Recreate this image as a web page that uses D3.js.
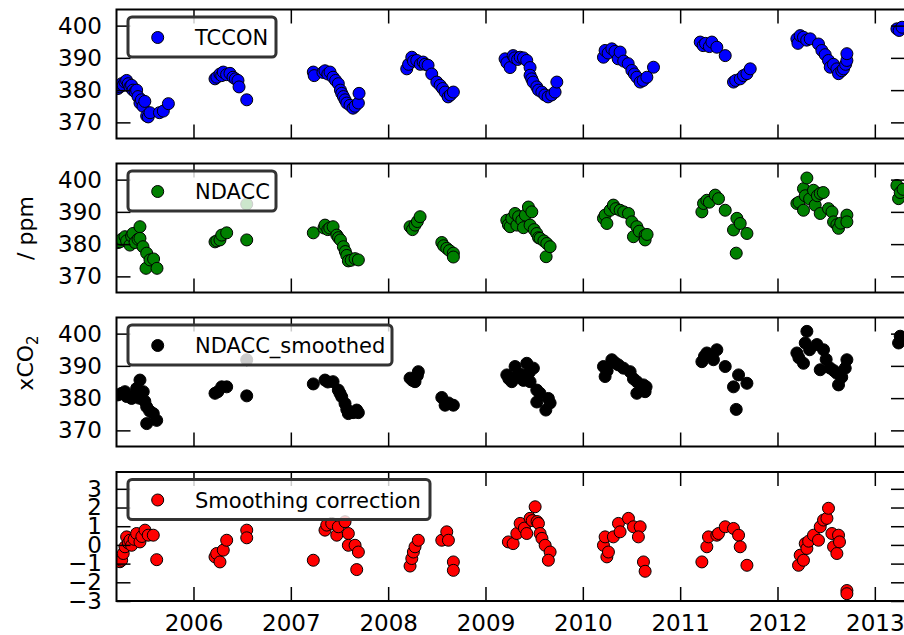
<!DOCTYPE html>
<html>
<head>
<meta charset="utf-8">
<script src="https://cdn.jsdelivr.net/npm/d3@7"></script>
<style>
  body { margin: 0; background: #fff; }
  svg { font-family: "DejaVu Sans", sans-serif; }
</style>
</head>
<body>
<div id="chart"></div>
<script>
// Tick values
const yearTicks = [2006, 2007, 2008, 2009, 2010, 2011, 2012, 2013];
const co2Ticks = [370, 380, 390, 400];
const corrTicks = [-3, -2, -1, 0, 1, 2, 3];

// Series: [decimal year, value]
const tcconData = [
  [2005.224,380.5],[2005.245,381],[2005.262,382],[2005.278,381.5],[2005.296,382.5],[2005.313,383],[2005.330,382],[2005.347,381],
  [2005.364,381.5],[2005.378,380],[2005.400,379.5],[2005.416,380],[2005.430,378],[2005.450,376],[2005.465,377],[2005.481,375],
  [2005.500,376.5],[2005.519,372],[2005.535,371.7],[2005.553,373],[2005.650,373],[2005.690,373.5],[2005.742,375.8],
  [2006.221,383.5],[2006.240,384],[2006.272,385],[2006.290,384.5],[2006.306,385.6],[2006.340,384.8],[2006.375,385.2],[2006.406,384],
  [2006.430,383.5],[2006.457,383],[2006.468,381],[2006.547,377],
  [2007.231,385.6],[2007.240,384.5],[2007.330,385.5],[2007.351,386],[2007.380,385],[2007.403,385.6],[2007.434,384],[2007.460,383],
  [2007.488,382],[2007.510,380],[2007.523,379],[2007.540,378],[2007.557,377],[2007.575,376],[2007.608,375.3],[2007.639,374.4],
  [2007.660,375],[2007.694,376],[2007.701,379],
  [2008.191,386.6],[2008.210,388],[2008.243,390.2],[2008.260,389],[2008.294,389.2],[2008.330,388],[2008.359,388.7],[2008.380,388],
  [2008.410,387.7],[2008.448,385],[2008.500,382.5],[2008.534,381.5],[2008.560,380.5],[2008.585,379.4],[2008.616,377.9],[2008.640,378.5],[2008.670,379.4],
  [2009.201,389.7],[2009.220,388.5],[2009.253,387],[2009.284,390.7],[2009.300,390],[2009.330,389.5],[2009.356,390.2],[2009.390,390],
  [2009.424,389.2],[2009.458,387],[2009.458,384.6],[2009.475,383.5],[2009.489,382.5],[2009.527,381],[2009.545,380],[2009.579,379.4],
  [2009.610,378.5],[2009.643,377.9],[2009.680,378.5],[2009.715,379.4],[2009.733,382.5],
  [2010.212,390.2],[2010.229,392.3],[2010.260,391.5],[2010.298,392.8],[2010.330,392],[2010.363,389.7],[2010.383,391.8],[2010.420,389],
  [2010.466,388.2],[2010.504,386.1],[2010.530,385],[2010.555,384],[2010.589,382.5],[2010.620,383],[2010.658,384],[2010.726,387.1],
  [2011.206,394.9],[2011.236,393.8],[2011.260,394.5],[2011.300,393.5],[2011.326,394.9],[2011.377,393.3],[2011.463,390.7],[2011.548,382.5],
  [2011.570,383],[2011.617,383.5],[2011.650,384.5],[2011.686,385.1],[2011.720,386.6],
  [2012.199,395.9],[2012.210,394.5],[2012.233,396.9],[2012.267,396.4],[2012.300,395.5],[2012.336,395.9],[2012.421,394.3],[2012.456,392.3],
  [2012.490,391],[2012.524,389.2],[2012.542,387.1],[2012.575,388],[2012.610,386.6],[2012.627,385.1],[2012.660,386],[2012.678,386.6],
  [2012.700,388],[2012.713,389.2],[2012.713,391.3],
  [2013.227,399],[2013.250,398.5],[2013.280,399.5]
];

const ndaccData = [
  [2005.224,380.5],[2005.245,380.7],[2005.262,381.5],[2005.296,382.3],[2005.313,381],[2005.347,379.7],[2005.364,382.5],[2005.378,383.3],
  [2005.400,380.5],[2005.430,381.5],[2005.450,385.4],[2005.450,381.8],[2005.481,379.2],[2005.512,372.5],[2005.519,377.2],[2005.553,375.1],
  [2005.590,375.4],[2005.625,372.5],
  [2006.221,380.7],[2006.240,381],[2006.272,381.3],[2006.290,382.8],[2006.341,383.5],[2006.547,392.4],[2006.547,381.3],
  [2007.231,383.5],[2007.340,385],[2007.351,385.9],[2007.380,384.5],[2007.400,385],[2007.434,385.4],[2007.472,382.8],[2007.490,382],
  [2007.510,381.3],[2007.540,379.2],[2007.560,377.7],[2007.575,376.5],[2007.591,374.8],[2007.620,375],[2007.660,375.5],[2007.694,375.1],
  [2008.225,385.4],[2008.250,384.5],[2008.276,385.9],[2008.300,387],[2008.328,388.5],[2008.551,380.5],[2008.570,379.5],[2008.602,378.7],
  [2008.630,378],[2008.670,377.2],[2008.670,376],
  [2009.219,387.4],[2009.235,386],[2009.253,385.4],[2009.270,388],[2009.304,389.5],[2009.322,385.9],[2009.340,388.5],[2009.373,387.4],
  [2009.390,385.1],[2009.410,389],[2009.441,391.5],[2009.458,385.9],[2009.476,390],[2009.500,384.5],[2009.527,383.3],[2009.545,382],
  [2009.561,381.8],[2009.600,381],[2009.630,380.2],[2009.623,376.1],[2009.664,379.2],
  [2010.212,388],[2010.229,389],[2010.247,386.4],[2010.280,390.5],[2010.314,392.1],[2010.340,391],[2010.383,390.5],[2010.420,390],
  [2010.469,389.5],[2010.504,386.9],[2010.520,382.3],[2010.555,385.4],[2010.580,384],[2010.640,382.8],[2010.640,381.3],[2010.660,383],
  [2011.223,390],[2011.240,392.6],[2011.274,393.6],[2011.300,393],[2011.360,395.2],[2011.394,394.1],[2011.463,390.5],[2011.548,384.4],
  [2011.576,377.2],[2011.583,388],[2011.617,386.4],[2011.686,383.3],
  [2012.199,392.6],[2012.220,393],[2012.267,397.2],[2012.267,390.5],[2012.285,395],[2012.302,400.5],[2012.330,394],[2012.370,396.7],
  [2012.387,392.1],[2012.410,395],[2012.439,395.7],[2012.439,389.5],[2012.470,396],[2012.524,391],[2012.560,390],[2012.576,386.9],
  [2012.610,386],[2012.627,384.9],[2012.650,386.5],[2012.713,389],[2012.713,386.9],
  [2013.227,398.2],[2013.244,394.1],[2013.261,396],[2013.290,397]
];

const smoothedData = [
  [2005.224,381],[2005.262,381.5],[2005.296,382],[2005.313,380.5],[2005.364,379.9],[2005.400,381],[2005.416,383],[2005.450,385.6],
  [2005.440,380],[2005.484,382],[2005.500,379],[2005.519,377.3],[2005.519,372.1],[2005.550,376],[2005.587,375.2],[2005.622,373.1],
  [2006.221,381.5],[2006.250,382],[2006.290,383.5],[2006.341,383.5],[2006.547,391.9],[2006.547,380.7],
  [2007.231,384.4],[2007.351,385.6],[2007.380,385],[2007.434,385.1],[2007.488,382.5],[2007.505,381.5],[2007.523,380.4],[2007.557,378.3],
  [2007.575,376.5],[2007.591,375.2],[2007.640,375.5],[2007.677,376.3],[2007.694,375.5],
  [2008.225,386.2],[2008.250,385.5],[2008.276,385.1],[2008.300,387],[2008.310,388.2],[2008.551,380.2],[2008.585,377.8],[2008.620,378.5],[2008.670,377.8],
  [2009.219,387.2],[2009.240,386],[2009.270,385.1],[2009.304,389.8],[2009.330,387],[2009.356,387.5],[2009.390,385.5],[2009.424,390.8],
  [2009.450,388],[2009.458,385.1],[2009.492,389.3],[2009.527,382.5],[2009.527,378.8],[2009.560,381.5],[2009.620,376.3],[2009.646,379.9],[2009.664,378.5],
  [2010.212,389.8],[2010.229,386.7],[2010.250,388.5],[2010.298,391.9],[2010.330,391],[2010.366,390.3],[2010.417,389.3],[2010.486,388.2],
  [2010.520,386],[2010.555,385.1],[2010.555,381.5],[2010.623,384.1],[2010.640,382],[2010.650,383.5],
  [2011.223,391.3],[2011.250,393],[2011.274,394],[2011.342,391.9],[2011.377,395],[2011.463,389.8],[2011.548,383.5],[2011.576,376.5],
  [2011.600,387.2],[2011.686,384.6],
  [2012.199,394],[2012.220,392.5],[2012.267,390.8],[2012.285,397.1],[2012.302,400.7],[2012.330,395],[2012.405,396.6],[2012.439,388.8],
  [2012.473,395],[2012.500,392],[2012.542,389.3],[2012.580,388.5],[2012.610,387.7],[2012.627,384.1],[2012.660,386.5],[2012.696,389.3],[2012.713,391.9],
  [2013.244,397.1],[2013.261,399.2]
];

const correctionData = [
  [2005.245,-0.9],[2005.262,-0.82],[2005.278,-0.46],[2005.296,-0.1],[2005.313,0.43],[2005.330,0.1],[2005.347,0.25],[2005.364,-0.02],
  [2005.390,0.3],[2005.416,0.61],[2005.450,0.16],[2005.470,0.45],[2005.502,0.79],[2005.535,0.52],[2005.587,0.52],[2005.622,-0.79],
  [2006.221,-0.64],[2006.238,-0.46],[2006.272,-0.91],[2006.306,-0.28],[2006.341,0.25],[2006.547,0.79],[2006.547,0.38],
  [2007.231,-0.82],[2007.351,0.79],[2007.369,1.06],[2007.420,1.15],[2007.472,0.52],[2007.488,0.97],[2007.557,1.24],[2007.591,0.61],
  [2007.591,-0.02],[2007.660,-0.02],[2007.694,-0.38],[2007.677,-1.32],
  [2008.225,-1.13],[2008.243,-0.73],[2008.259,-0.38],[2008.276,-0.1],[2008.310,0.25],[2008.551,0.25],[2008.602,0.7],[2008.619,0.25],
  [2008.670,-0.91],[2008.670,-1.36],
  [2009.235,0.16],[2009.284,0.07],[2009.322,0.61],[2009.356,1.15],[2009.400,0.9],[2009.424,0.61],[2009.458,1.42],[2009.480,1.3],
  [2009.510,2.04],[2009.530,1.25],[2009.544,1.15],[2009.561,0.61],[2009.580,0.35],[2009.613,-0.02],[2009.664,-0.38],[2009.646,-0.82],
  [2010.212,-0.02],[2010.247,-0.64],[2010.263,-0.38],[2010.229,0.43],[2010.314,0.43],[2010.366,1.15],[2010.383,0.7],[2010.469,1.42],
  [2010.520,0.97],[2010.589,0.97],[2010.571,0.43],[2010.623,-0.91],[2010.640,-1.41],
  [2011.223,-0.91],[2011.274,-0.1],[2011.291,0.43],[2011.377,0.52],[2011.394,0.61],[2011.463,0.97],[2011.548,0.88],[2011.600,0.52],
  [2011.617,-0.1],[2011.686,-1.09],
  [2012.216,-1.09],[2012.233,-0.55],[2012.267,-0.82],[2012.285,0.07],[2012.302,-0.19],[2012.320,0.2],[2012.370,0.52],[2012.421,0.25],
  [2012.439,0.97],[2012.473,1.33],[2012.508,1.42],[2012.524,1.96],[2012.559,0.61],[2012.576,-0.1],[2012.627,0.52],[2012.637,0.16],
  [2012.610,-0.46],[2012.713,-2.44],[2012.713,-2.61]
];

// Layout
const width = 904, height = 635;
const left = 116.5, right = 905;
const panelH = 129;
const panelTops = [9.5, 163.5, 317.5, 472];

const svg = d3.select("#chart")
  .append("svg")
  .attr("width", width)
  .attr("height", height);

const x = d3.scaleLinear().domain([2005.209, 2013.31]).range([left, right]);

const panels = [
  { name: "TCCON", data: tcconData, fill: "#0000ff", domain: [365, 405], ticks: co2Ticks, legendW: 148 },
  { name: "NDACC", data: ndaccData, fill: "#008000", domain: [365, 405], ticks: co2Ticks, legendW: 148 },
  { name: "NDACC_smoothed", data: smoothedData, fill: "#000000", domain: [365, 405], ticks: co2Ticks, legendW: 264 },
  { name: "Smoothing correction", data: correctionData, fill: "#ff0000", domain: [-3, 3.9], ticks: corrTicks, legendW: 302 }
];

const fmt = d => d < 0 ? "\u2212" + Math.abs(d) : String(d);

panels.forEach((p, i) => {
  const top = panelTops[i];
  const y = d3.scaleLinear().domain(p.domain).range([top + panelH, top]);
  const g = svg.append("g");

  // clip to axes area
  const clipId = "clip" + i;
  svg.append("clipPath").attr("id", clipId)
    .append("rect").attr("x", left).attr("y", top).attr("width", right - left).attr("height", panelH);

  // points
  g.append("g").attr("clip-path", `url(#${clipId})`)
    .selectAll("circle")
    .data(p.data)
    .enter()
    .append("circle")
    .attr("cx", d => x(d[0]))
    .attr("cy", d => y(d[1]))
    .attr("r", 6)
    .attr("fill", p.fill)
    .attr("stroke", "#000")
    .attr("stroke-width", 1);

  // ticks (inward, all four sides)
  const bottomAxis = d3.axisBottom(x).tickValues(yearTicks).tickSize(-14).tickPadding(14)
    .tickFormat(i === panels.length - 1 ? d3.format("d") : "");
  const topAxis = d3.axisTop(x).tickValues(yearTicks).tickSize(-14).tickFormat("");
  const leftAxis = d3.axisLeft(y).tickValues(p.ticks).tickSize(-14).tickPadding(14.5).tickFormat(fmt);
  const rightAxis = d3.axisRight(y).tickValues(p.ticks).tickSize(-14).tickFormat("");

  const axes = [
    [bottomAxis, `translate(0,${top + panelH})`],
    [topAxis, `translate(0,${top})`],
    [leftAxis, `translate(${left},0)`],
    [rightAxis, `translate(${right},0)`]
  ];
  axes.forEach(([ax, tr]) => {
    const a = g.append("g").attr("transform", tr).call(ax);
    a.select(".domain").remove();
    a.selectAll(".tick line").attr("stroke", "#000").attr("stroke-width", 1.5);
    a.selectAll(".tick text").attr("fill", "#000").attr("font-size", 23)
      .attr("font-family", "DejaVu Sans, sans-serif");
  });

  // spines
  g.append("rect")
    .attr("x", left).attr("y", top)
    .attr("width", right - left).attr("height", panelH)
    .attr("fill", "none").attr("stroke", "#000").attr("stroke-width", 2);

  // legend
  const lg = g.append("g").attr("transform", `translate(128,${top + 7.5})`);
  lg.append("rect")
    .attr("width", p.legendW).attr("height", 40)
    .attr("rx", 4)
    .attr("fill", "#fff").attr("fill-opacity", 0.8)
    .attr("stroke", "#333").attr("stroke-width", 3);
  lg.append("circle")
    .attr("cx", 29.7).attr("cy", 20.5).attr("r", 6)
    .attr("fill", p.fill).attr("stroke", "#000");
  lg.append("text")
    .attr("x", 67).attr("y", 20.5).attr("dy", "0.36em")
    .attr("font-size", 21).attr("fill", "#000")
    .text(p.name);
});

// y label
svg.append("text")
  .attr("transform", "translate(33,228) rotate(-90)")
  .attr("text-anchor", "middle")
  .attr("font-size", 22)
  .text("/ ppm");

const co2 = svg.append("text")
  .attr("transform", "translate(33,363) rotate(-90)")
  .attr("text-anchor", "middle")
  .attr("font-size", 22);
co2.append("tspan").text("xCO");
co2.append("tspan").attr("font-size", 15).attr("dy", 5).text("2");
</script>
</body>
</html>
